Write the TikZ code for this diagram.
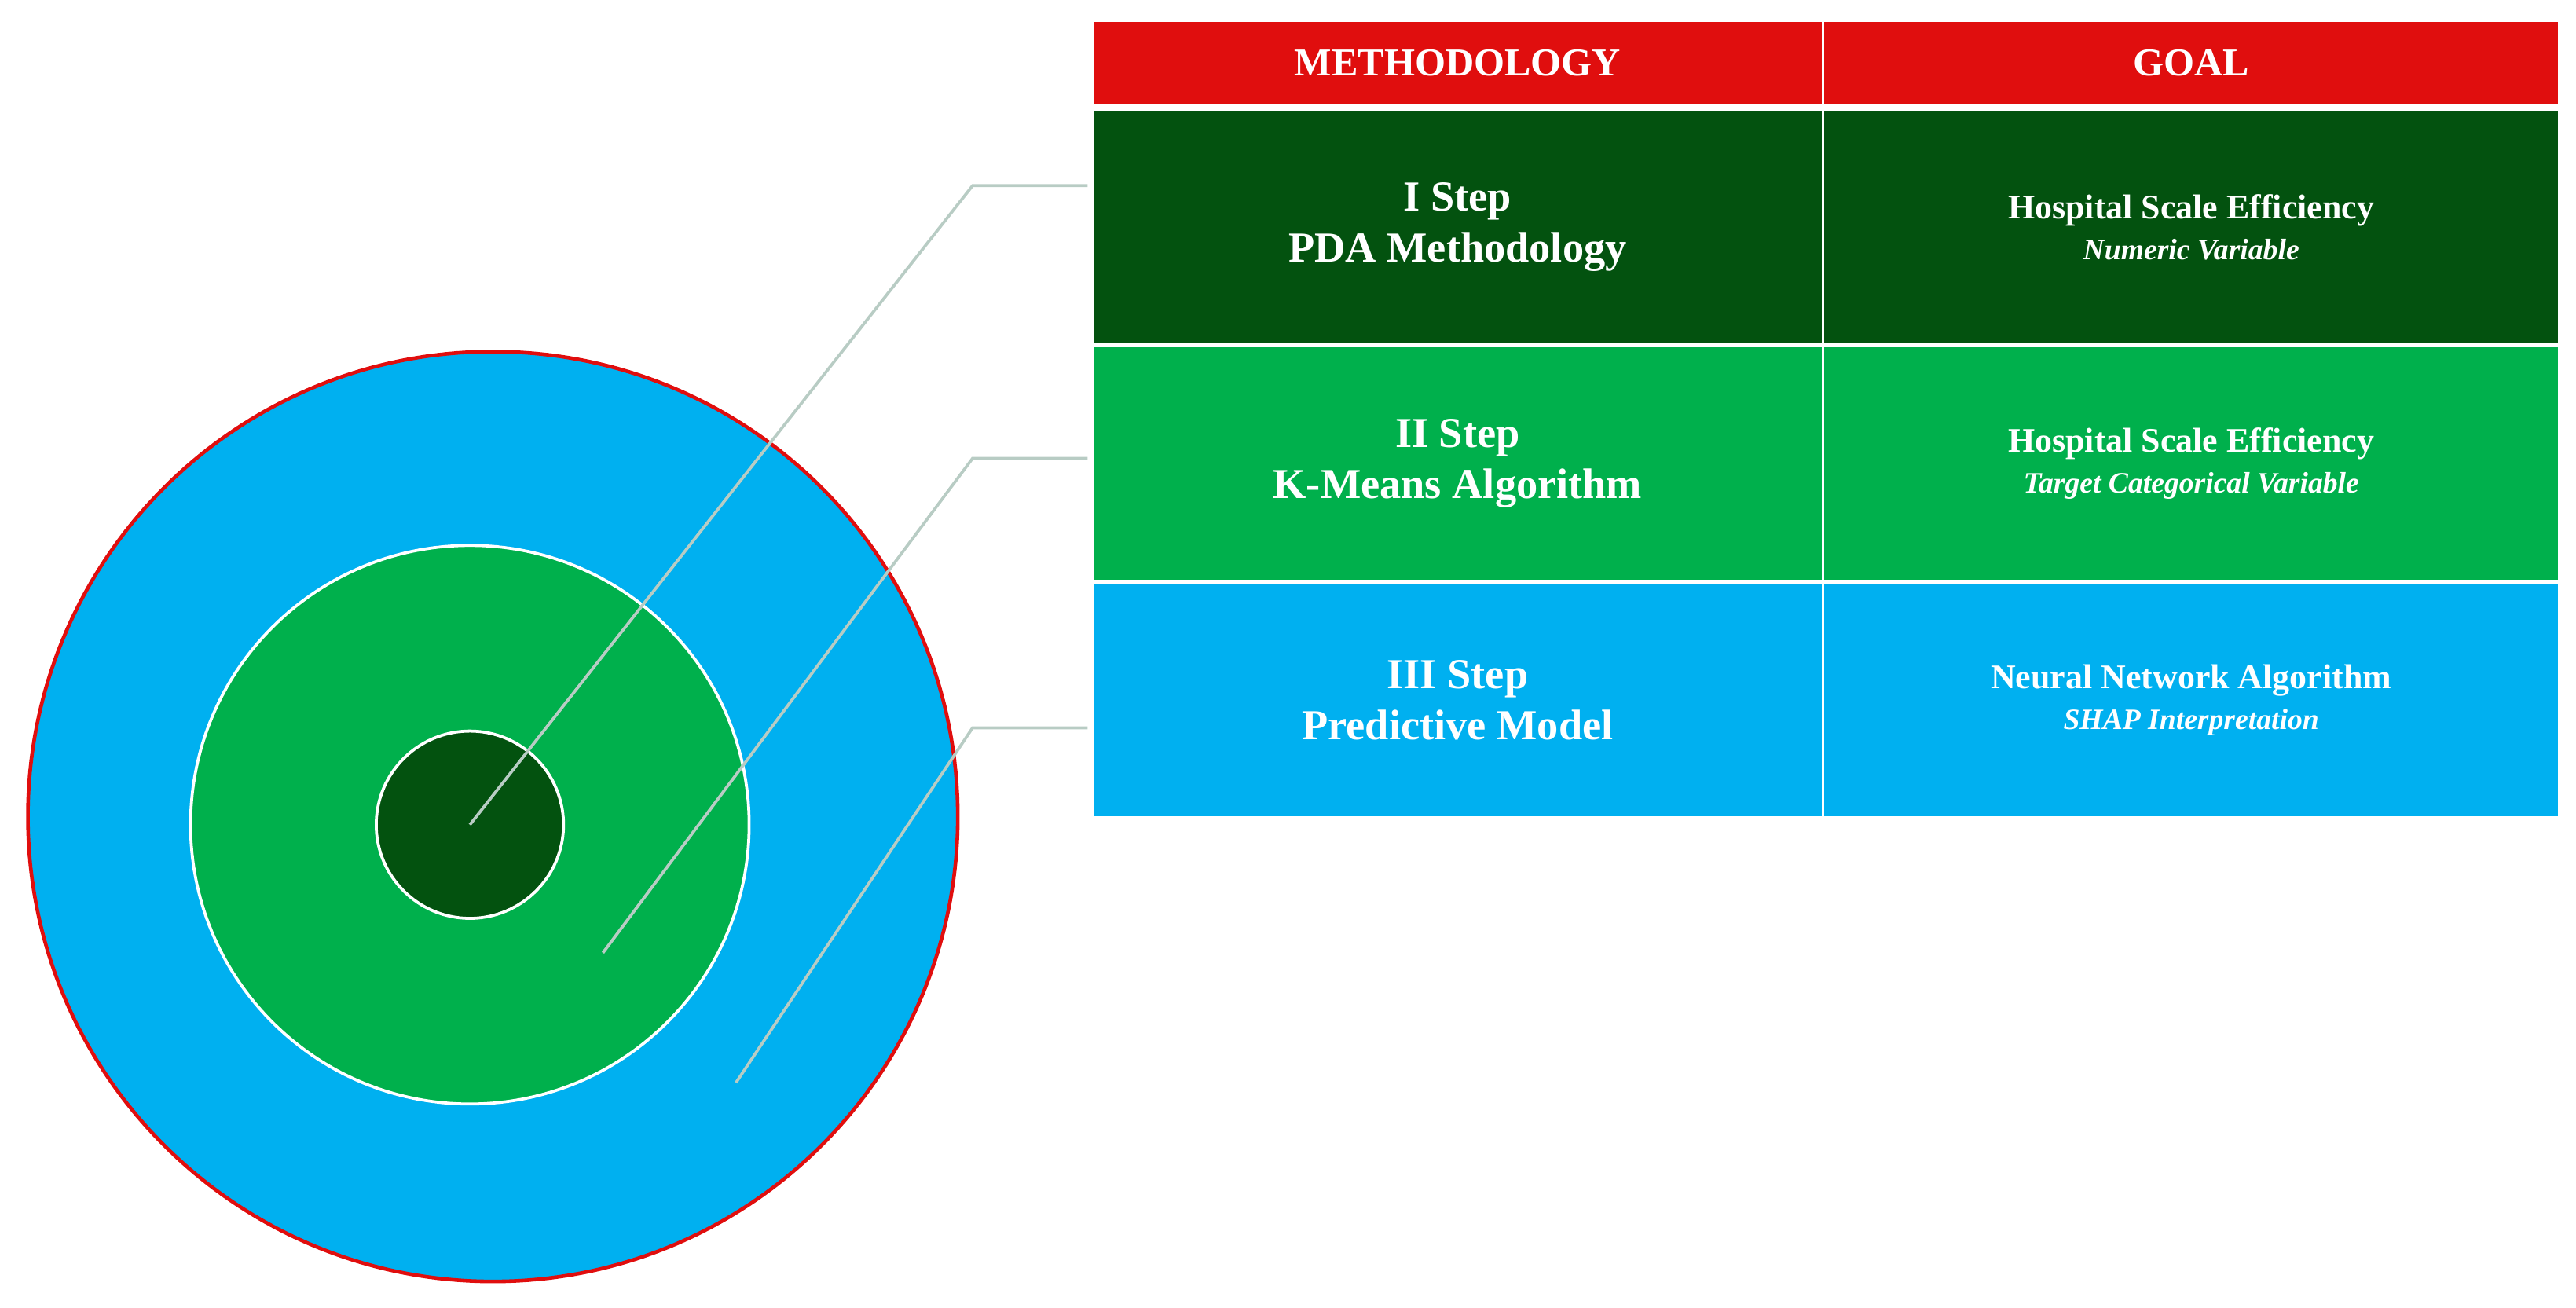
\documentclass[tikz,border=0pt]{standalone}
\usepackage{fontspec}
\setmainfont{Liberation Serif}
\definecolor{dkg}{HTML}{03520F}
\definecolor{gr}{HTML}{00B04C}
\definecolor{bl}{HTML}{00B0F0}
\definecolor{rd}{HTML}{E00E0E}
\definecolor{ln}{HTML}{B8CCC4}
\begin{document}
\begin{tikzpicture}[x=1pt,y=-1pt,
  cell/.style={draw=white,line width=1.5pt,minimum width=445pt,anchor=north west,inner sep=0pt},
  hd/.style={font=\fontsize{24}{28}\selectfont\bfseries,text=white},
  st/.style={font=\fontsize{26}{31}\selectfont\bfseries,text=white,align=center},
  gl/.style={font=\fontsize{21}{25}\selectfont\bfseries,text=white,align=center},
  lead/.style={draw=ln,line width=1.8pt}]
\useasboundingbox (0,0) rectangle (1568,796);
% circles
\node (c1) [circle,draw=rd,line width=2.2pt,fill=bl,minimum size=566pt,inner sep=0pt] at (300,497) {};
\node (c2) [circle,draw=white,line width=1.8pt,fill=gr,minimum size=340pt,inner sep=0pt] at (286,502) {};
\node (c3) [circle,draw=white,line width=1.8pt,fill=dkg,minimum size=114pt,inner sep=0pt] at (286,502) {};
% table
\node (h1) [cell,fill=rd,minimum height=51pt] at (664,12) {};
\node (h2) [cell,fill=rd,minimum height=51pt,minimum width=448pt] at (1109,12) {};
\node (r1a) [cell,fill=dkg,minimum height=143pt] at (664,66) {};
\node (r1b) [cell,fill=dkg,minimum height=143pt,minimum width=448pt] at (1109,66) {};
\node (r2a) [cell,fill=gr,minimum height=143pt] at (664,210) {};
\node (r2b) [cell,fill=gr,minimum height=143pt,minimum width=448pt] at (1109,210) {};
\node (r3a) [cell,fill=bl,minimum height=143pt] at (664,354) {};
\node (r3b) [cell,fill=bl,minimum height=143pt,minimum width=448pt] at (1109,354) {};
\node[hd] at (h1.center) {METHODOLOGY};
\node[hd] at (h2.center) {GOAL};
\node[st] at (r1a.center) {I Step\\PDA Methodology};
\node[st] at (r2a.center) {II Step\\K-Means Algorithm};
\node[st] at (r3a.center) {III Step\\Predictive Model};
\node[gl] at (r1b.center) {Hospital Scale Efficiency\\{\fontsize{18}{22}\selectfont\itshape Numeric Variable}};
\node[gl] at (r2b.center) {Hospital Scale Efficiency\\{\fontsize{18}{22}\selectfont\itshape Target Categorical Variable}};
\node[gl] at (r3b.center) {Neural Network Algorithm\\{\fontsize{18}{22}\selectfont\itshape SHAP Interpretation}};
% leaders
\coordinate (p1) at (286,502); \coordinate (k1) at (592,113); \coordinate (e1) at (662,113);
\coordinate (p2) at (367,580); \coordinate (k2) at (592,279); \coordinate (e2) at (662,279);
\coordinate (p3) at (448,659); \coordinate (k3) at (592,443); \coordinate (e3) at (662,443);
\draw[lead] (p1) -- (k1) -- (e1);
\draw[lead] (p2) -- (k2) -- (e2);
\draw[lead] (p3) -- (k3) -- (e3);
\end{tikzpicture}
\end{document}
